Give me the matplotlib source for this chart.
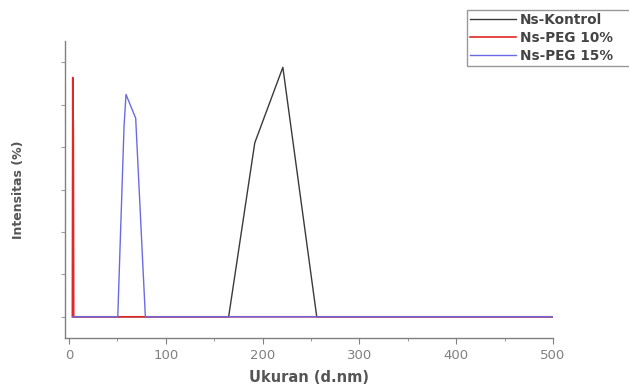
import matplotlib
matplotlib.use("Agg")
import matplotlib.pyplot as plt
from matplotlib.ticker import MultipleLocator

# Data (size in d.nm, intensity in %)
kontrol_x = [4, 165, 192, 221, 256, 500]
kontrol_y = [0, 0, 20.5, 29.4, 0, 0]

peg10_x = [3.6, 4.0, 4.6, 5.0, 500]
peg10_y = [0, 28.2, 22.0, 0, 0]

peg15_x = [4, 50.5, 57, 59, 69, 79, 500]
peg15_y = [0, 0, 22.5, 26.2, 23.4, 0, 0]

labels = ["Ns-Kontrol", "Ns-PEG 10%", "Ns-PEG 15%"]
xticks = [0, 100, 200, 300, 400, 500]

plt.rcParams['font.family'] = ['DejaVu Sans']

fig = plt.figure(figsize=(6.29, 3.89), dpi=100)
ax = fig.add_axes([65/629, 1-338/389, 488/629, (338-41)/389])

ax.plot(kontrol_x, kontrol_y, color="#3a3a3a", lw=1.0, label=labels[0])
ax.plot(peg10_x, peg10_y, color="#e02828", lw=1.2, label=labels[1])
ax.plot(peg15_x, peg15_y, color="#6a6ae6", lw=1.0, label=labels[2])

ax.set_xlim(-4, 500)
ax.set_ylim(-2.5, 32.5)
ax.set_xticks(xticks)
ax.xaxis.set_minor_locator(MultipleLocator(50))
ax.yaxis.set_major_locator(MultipleLocator(5))
ax.set_yticklabels([])

for s in ["top", "right"]:
    ax.spines[s].set_visible(False)
for s in ["left", "bottom"]:
    ax.spines[s].set_color("#808080")
    ax.spines[s].set_linewidth(1.0)

ax.tick_params(axis="x", which="major", direction="out", length=4, color="#808080",
               labelsize=9.5, labelcolor="#808080", pad=4)
ax.tick_params(axis="x", which="minor", direction="out", length=2.5, color="#808080")
ax.tick_params(axis="y", which="major", direction="out", length=3, color="#a0a0a0")

ax.set_xlabel("Ukuran (d.nm)", fontsize=10.5, fontweight="bold", color="#555555", labelpad=6)
ax.set_ylabel("Intensitas (%)", fontsize=9, fontweight="bold", color="#555555")
ax.yaxis.set_label_coords((25 - 65) / 488, 0.5)

leg = fig.legend(loc="upper left",
                 bbox_to_anchor=(467/629, 1-10/389 - 0.3, 0.5, 0.3), mode="expand",
                 frameon=True, fancybox=False, edgecolor="#808080",
                 handlelength=3.4, handletextpad=0.3, labelspacing=0.3,
                 borderpad=0.2, borderaxespad=0,
                 prop={"size": 9.8, "weight": "bold"})
leg.get_frame().set_linewidth(1.0)
for t in leg.get_texts():
    t.set_color("#444444")

fig.savefig("out.png", dpi=100)
